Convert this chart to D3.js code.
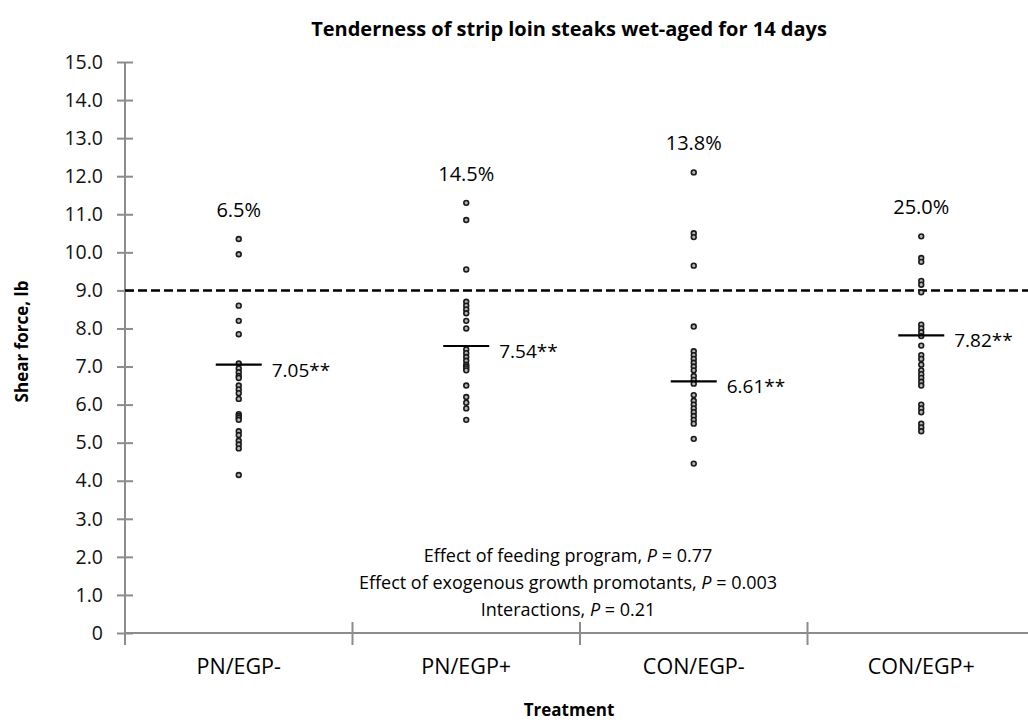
<!DOCTYPE html>
<html>
<head>
<meta charset="utf-8">
<script src="https://cdn.jsdelivr.net/npm/d3@7"></script>
<style>
  html, body { margin: 0; padding: 0; background: #fff; }
  svg { display: block; font-family: "Open Sans", "Noto Sans", sans-serif; }
</style>
</head>
<body>
<svg id="chart" width="1028" height="726"></svg>
<script>
// Treatment groups
const categories = ["PN/EGP-", "PN/EGP+", "CON/EGP-", "CON/EGP+"];

// Individual steak shear force values (lb) per treatment
const pnEgpMinus = [10.35, 9.95, 8.60, 8.20, 7.85, 7.08, 6.95, 6.85, 6.75, 6.70, 6.50, 6.40, 6.30,
  6.15, 5.75, 5.70, 5.65, 5.60, 5.30, 5.20, 5.05, 4.95, 4.85, 4.15];
const pnEgpPlus = [11.30, 10.85, 9.55, 8.70, 8.60, 8.50, 8.40, 8.20, 8.00, 7.45, 7.35, 7.25, 7.15,
  7.05, 7.00, 6.95, 6.90, 6.50, 6.20, 6.05, 5.90, 5.60];
const conEgpMinus = [12.10, 10.50, 10.40, 9.65, 8.05, 7.40, 7.30, 7.20, 7.10, 7.00, 6.90, 6.75,
  6.65, 6.55, 6.25, 6.10, 6.00, 5.90, 5.80, 5.70, 5.60, 5.50, 5.10, 4.45];
const conEgpPlus = [10.42, 9.85, 9.75, 9.25, 9.15, 8.95, 8.10, 8.00, 7.90, 7.80, 7.55, 7.30, 7.20,
  7.05, 6.90, 6.80, 6.70, 6.60, 6.50, 6.00, 5.90, 5.80, 5.50, 5.40, 5.30];

// Treatment means and share of steaks above the threshold
const means = [7.05, 7.54, 6.61, 7.82];
const meanLabels = ["7.05**", "7.54**", "6.61**", "7.82**"];
const pctAbove = ["6.5%", "14.5%", "13.8%", "25.0%"];

// Tenderness threshold (lb)
const threshold = 9.0;

// Y axis tick values
const yTicks = d3.range(0, 16, 1);

const notes = [
  ["Effect of feeding program, ", "P", " = 0.77"],
  ["Effect of exogenous growth promotants, ", "P", " = 0.003"],
  ["Interactions, ", "P", " = 0.21"]
];

const groups = [pnEgpMinus, pnEgpPlus, conEgpMinus, conEgpPlus];

const svg = d3.select("#chart");
const axisColor = "#8c8c8c";

const y = d3.scaleLinear().domain([0, 15]).range([633, 62]);
const x = d3.scaleBand().domain(categories).range([125, 125 + 4 * 227.5]);

// Title
svg.append("text")
  .attr("x", 569).attr("y", 36)
  .attr("text-anchor", "middle")
  .attr("font-size", 20).attr("font-weight", "bold")
  .text("Tenderness of strip loin steaks wet-aged for 14 days");

// Y axis
const yAxis = d3.axisLeft(y)
  .tickValues(yTicks)
  .tickSize(0)
  .tickPadding(22)
  .tickFormat(d => d === 0 ? "0" : d3.format(".1f")(d));

const gy = svg.append("g").attr("transform", "translate(125,0)").call(yAxis);
gy.select(".domain").remove();
gy.selectAll(".tick text").attr("font-size", 19.5).attr("fill", "#111")
  .attr("font-family", "'Open Sans', sans-serif");
gy.selectAll(".tick").append("line")
  .attr("x1", -8).attr("x2", 8)
  .attr("stroke", axisColor).attr("stroke-width", 2);
svg.append("line")
  .attr("x1", 125).attr("x2", 125)
  .attr("y1", y(15)).attr("y2", y(0) + 12)
  .attr("stroke", axisColor).attr("stroke-width", 2);

// X axis line and category boundary ticks
svg.append("line")
  .attr("x1", 125).attr("x2", x.range()[1])
  .attr("y1", y(0)).attr("y2", y(0))
  .attr("stroke", axisColor).attr("stroke-width", 2);
categories.slice(1).forEach(c => {
  svg.append("line")
    .attr("x1", x(c)).attr("x2", x(c))
    .attr("y1", y(0) - 11).attr("y2", y(0) + 12)
    .attr("stroke", axisColor).attr("stroke-width", 2);
});

// Category labels
svg.selectAll("text.cat").data(categories).join("text")
  .attr("class", "cat")
  .attr("x", d => x(d) + x.bandwidth() / 2)
  .attr("y", 674)
  .attr("text-anchor", "middle")
  .attr("font-size", 21.5)
  .text(d => d);

// Axis titles
svg.append("text")
  .attr("x", 569).attr("y", 716)
  .attr("text-anchor", "middle")
  .attr("font-size", 17).attr("font-weight", "bold")
  .text("Treatment");
svg.append("text")
  .attr("transform", `translate(28,${(y(0) + y(15)) / 2 - 6}) rotate(-90)`)
  .attr("text-anchor", "middle")
  .attr("font-size", 17).attr("font-weight", "bold")
  .text("Shear force, lb");

// Threshold line
svg.append("line")
  .attr("x1", 125).attr("x2", 1028)
  .attr("y1", y(threshold)).attr("y2", y(threshold))
  .attr("stroke", "#000").attr("stroke-width", 2.5)
  .attr("stroke-dasharray", "9,4");

// Individual steaks
groups.forEach((vals, i) => {
  const cx = x(categories[i]) + x.bandwidth() / 2;
  svg.append("g").selectAll("circle").data(vals).join("circle")
    .attr("cx", cx)
    .attr("cy", d => y(d))
    .attr("r", 2.4)
    .attr("fill", "#b5b5b5")
    .attr("stroke", "#1a1a1a")
    .attr("stroke-width", 1.6);

  // Mean bar and label
  svg.append("line")
    .attr("x1", cx - 23).attr("x2", cx + 23)
    .attr("y1", y(means[i])).attr("y2", y(means[i]))
    .attr("stroke", "#000").attr("stroke-width", 2.2);
  svg.append("text")
    .attr("x", cx + 33).attr("y", y(means[i]) + 12)
    .attr("font-size", 19)
    .text(meanLabels[i]);

  // Percentage above threshold
  svg.append("text")
    .attr("x", cx).attr("y", y(d3.max(vals)) - 22)
    .attr("text-anchor", "middle")
    .attr("font-size", 20)
    .text(pctAbove[i]);
});

// Statistical notes
notes.forEach((n, i) => {
  const t = svg.append("text")
    .attr("x", 568).attr("y", 562 + i * 27)
    .attr("text-anchor", "middle")
    .attr("font-size", 18);
  t.append("tspan").text(n[0]);
  t.append("tspan").attr("font-style", "italic").text(n[1]);
  t.append("tspan").text(n[2]);
});
</script>
</body>
</html>
